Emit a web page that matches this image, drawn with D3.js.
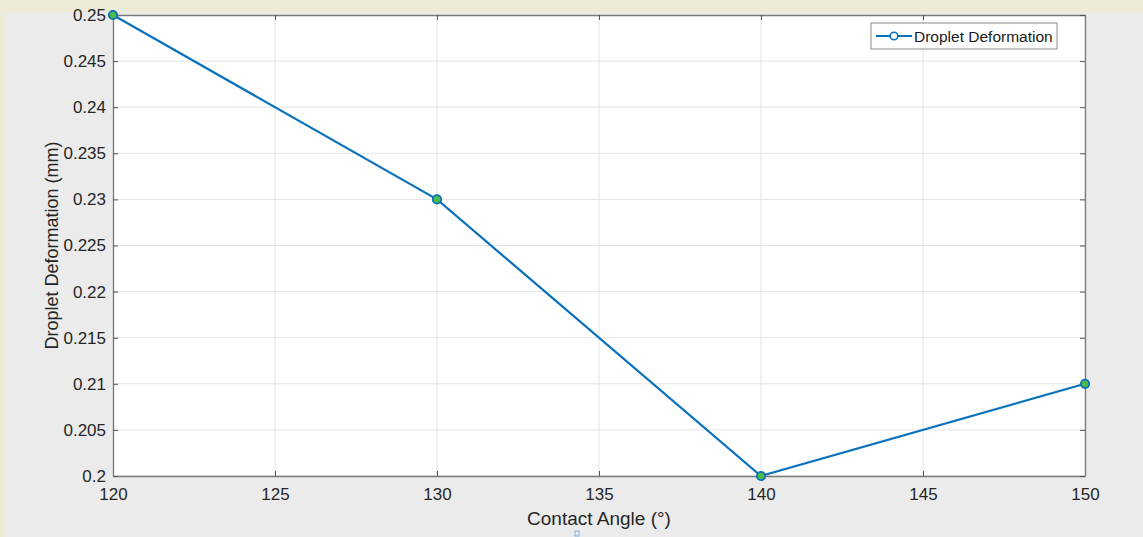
<!DOCTYPE html>
<html lang="en">
<head>
<meta charset="utf-8">
<script src="https://d3js.org/d3.v7.min.js"></script>
<style type="text/css">
body {
	margin: 0;
	background: #edebd8;
	font-family: "Liberation Sans", Arial, sans-serif;
}
</style>
</head>
<body>
<script type="text/javascript">

// data
const angles = [120, 130, 140, 150];
const deformation = [0.25, 0.23, 0.2, 0.21];
const xTicks = [120, 125, 130, 135, 140, 145, 150];
const yTicks = [0.2, 0.205, 0.21, 0.215, 0.22, 0.225, 0.23, 0.235, 0.24, 0.245, 0.25];
const seriesName = 'Droplet Deformation';

const width = 1143;
const height = 537;
const margin = {top: 15, right: 58, bottom: 61, left: 113};

const lineColor = '#0a72bd';
const markerFill = '#4cbb48';

const svg = d3.select('body')
	.append('svg')
	.attr('width', width)
	.attr('height', height);

// grey figure background (beige strip left and top)
svg.append('rect')
	.attr('x', 5).attr('y', 12)
	.attr('width', width - 5).attr('height', height - 12)
	.attr('fill', '#ebebeb');

const x = d3.scaleLinear()
	.domain([120, 150])
	.range([margin.left, width - margin.right]);

const y = d3.scaleLinear()
	.domain([0.2, 0.25])
	.range([height - margin.bottom, margin.top]);

// plot area
svg.append('rect')
	.attr('x', x(120)).attr('y', y(0.25))
	.attr('width', x(150) - x(120)).attr('height', y(0.2) - y(0.25))
	.attr('fill', '#fff');

// grid
svg.append('g')
	.selectAll('line.vx')
	.data(xTicks)
	.enter().append('line')
	.attr('x1', d => x(d)).attr('x2', d => x(d))
	.attr('y1', y(0.2)).attr('y2', y(0.25))
	.attr('stroke', '#e3e3e3');

svg.append('g')
	.selectAll('line.hy')
	.data(yTicks)
	.enter().append('line')
	.attr('x1', x(120)).attr('x2', x(150))
	.attr('y1', d => y(d)).attr('y2', d => y(d))
	.attr('stroke', '#e3e3e3');

// axes with inward ticks, MATLAB box style
const fmtY = d => d3.format('.3~f')(d);

const axisStyle = g => {
	g.select('.domain').attr('stroke', '#7a7a7a').attr('stroke-width', 1.3);
	g.selectAll('.tick line').attr('stroke', '#555');
	g.selectAll('.tick text')
		.attr('fill', '#262626')
		.style('font-size', '17px')
		.style('font-family', '"Liberation Sans", Arial, sans-serif');
};

svg.append('g')
	.attr('transform', `translate(0,${y(0.2)})`)
	.call(d3.axisBottom(x).tickValues(xTicks).tickSizeInner(-5).tickSizeOuter(0).tickPadding(12))
	.call(axisStyle);

svg.append('g')
	.attr('transform', `translate(0,${y(0.25)})`)
	.call(d3.axisTop(x).tickValues(xTicks).tickSizeInner(-5).tickSizeOuter(0).tickFormat(''))
	.call(axisStyle);

svg.append('g')
	.attr('transform', `translate(${x(120)},0)`)
	.call(d3.axisLeft(y).tickValues(yTicks).tickSizeInner(-5).tickSizeOuter(0).tickPadding(7).tickFormat(fmtY))
	.call(axisStyle);

svg.append('g')
	.attr('transform', `translate(${x(150)},0)`)
	.call(d3.axisRight(y).tickValues(yTicks).tickSizeInner(-5).tickSizeOuter(0).tickFormat(''))
	.call(axisStyle);

// axis labels
svg.append('text')
	.attr('x', (x(120) + x(150)) / 2)
	.attr('y', 525)
	.attr('text-anchor', 'middle')
	.attr('fill', '#262626')
	.style('font-size', '19px')
	.text('Contact Angle (°)');

svg.append('text')
	.attr('transform', `translate(58,${(y(0.2) + y(0.25)) / 2}) rotate(-90)`)
	.attr('text-anchor', 'middle')
	.attr('fill', '#262626')
	.style('font-size', '18px')
	.text('Droplet Deformation (mm)');

// series
const pts = angles.map((a, i) => [a, deformation[i]]);

svg.append('path')
	.datum(pts)
	.attr('d', d3.line().x(d => x(d[0])).y(d => y(d[1])))
	.attr('fill', 'none')
	.attr('stroke', lineColor)
	.attr('stroke-width', 2.2);

svg.selectAll('circle.pt')
	.data(pts)
	.enter().append('circle')
	.attr('cx', d => x(d[0]))
	.attr('cy', d => y(d[1]))
	.attr('r', 4.2)
	.attr('fill', markerFill)
	.attr('stroke', lineColor)
	.attr('stroke-width', 1.8);

// legend
const legend = svg.append('g').attr('transform', 'translate(871,23)');
legend.append('rect')
	.attr('width', 186).attr('height', 26)
	.attr('fill', '#fff')
	.attr('stroke', '#8a8a8a');
legend.append('line')
	.attr('x1', 5).attr('x2', 41).attr('y1', 13).attr('y2', 13)
	.attr('stroke', lineColor).attr('stroke-width', 2);
legend.append('circle')
	.attr('cx', 23).attr('cy', 13).attr('r', 3.8)
	.attr('fill', '#fff')
	.attr('stroke', lineColor).attr('stroke-width', 1.6);
legend.append('text')
	.attr('x', 43).attr('y', 19)
	.attr('fill', '#1a1a1a')
	.style('font-size', '15.5px')
	.text(seriesName);

// small marker artifact under the x label
svg.append('rect')
	.attr('x', 575).attr('y', 531).attr('width', 4).attr('height', 5)
	.attr('fill', 'none').attr('stroke', '#7fb0e0');

</script>
</body>
</html>
